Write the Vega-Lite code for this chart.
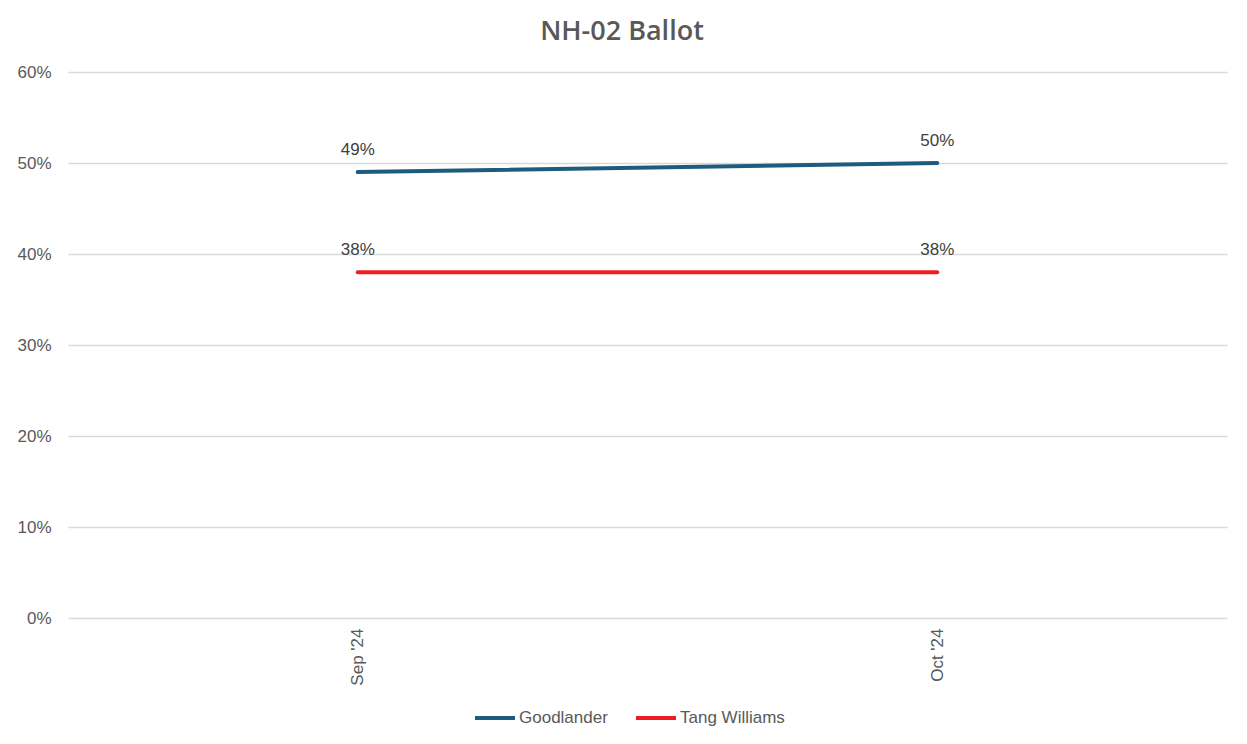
{
  "$schema": "https://vega.github.io/schema/vega-lite/v6.json",
  "width": 1159,
  "height": 546,
  "autosize": {"type": "none"},
  "padding": {"left": 68, "top": 72, "right": 20, "bottom": 126},
  "background": "white",
  "title": {
    "text": "NH-02 Ballot",
    "font": "Open Sans",
    "fontSize": 27,
    "fontWeight": 600,
    "color": "#595959",
    "anchor": "middle",
    "frame": "bounds",
    "offset": 17
  },
  "config": {
    "view": {"stroke": null},
    "font": "Liberation Sans"
  },
  "data": {
    "values": [
      {"month": "Sep '24", "candidate": "Goodlander", "share": 0.49},
      {"month": "Oct '24", "candidate": "Goodlander", "share": 0.50},
      {"month": "Sep '24", "candidate": "Tang Williams", "share": 0.38},
      {"month": "Oct '24", "candidate": "Tang Williams", "share": 0.38}
    ]
  },
  "encoding": {
    "x": {
      "field": "month",
      "type": "ordinal",
      "sort": ["Sep '24", "Oct '24"],
      "scale": {"type": "point", "padding": 0.5},
      "axis": {
        "title": null,
        "labelAngle": -90,
        "domain": false,
        "ticks": false,
        "grid": false,
        "labelPadding": 10,
        "labelFontSize": 17,
        "labelColor": "#595959"
      }
    },
    "y": {
      "field": "share",
      "type": "quantitative",
      "scale": {"domain": [0, 0.6]},
      "axis": {
        "title": null,
        "format": ".0%",
        "values": [0, 0.1, 0.2, 0.3, 0.4, 0.5, 0.6],
        "domain": false,
        "ticks": false,
        "grid": true,
        "gridColor": "#D9D9D9",
        "gridWidth": 1.5,
        "labelPadding": 17,
        "labelFontSize": 17,
        "labelColor": "#595959"
      }
    },
    "color": {
      "field": "candidate",
      "type": "nominal",
      "scale": {
        "domain": ["Goodlander", "Tang Williams"],
        "range": ["#1D5C7E", "#EE1D23"]
      },
      "legend": {
        "title": null,
        "orient": "none",
        "legendX": 405,
        "legendY": 624,
        "direction": "horizontal",
        "symbolType": "stroke",
        "symbolStrokeWidth": 4,
        "symbolSize": 1600,
        "labelFontSize": 17,
        "labelColor": "#595959",
        "labelOffset": 2,
        "columnPadding": 20
      }
    }
  },
  "layer": [
    {
      "mark": {"type": "line", "strokeWidth": 4, "strokeCap": "round"}
    },
    {
      "mark": {"type": "text", "dy": -22, "fontSize": 17},
      "encoding": {
        "text": {"field": "share", "type": "quantitative", "format": ".0%"},
        "color": {"value": "#404040"}
      }
    }
  ]
}
